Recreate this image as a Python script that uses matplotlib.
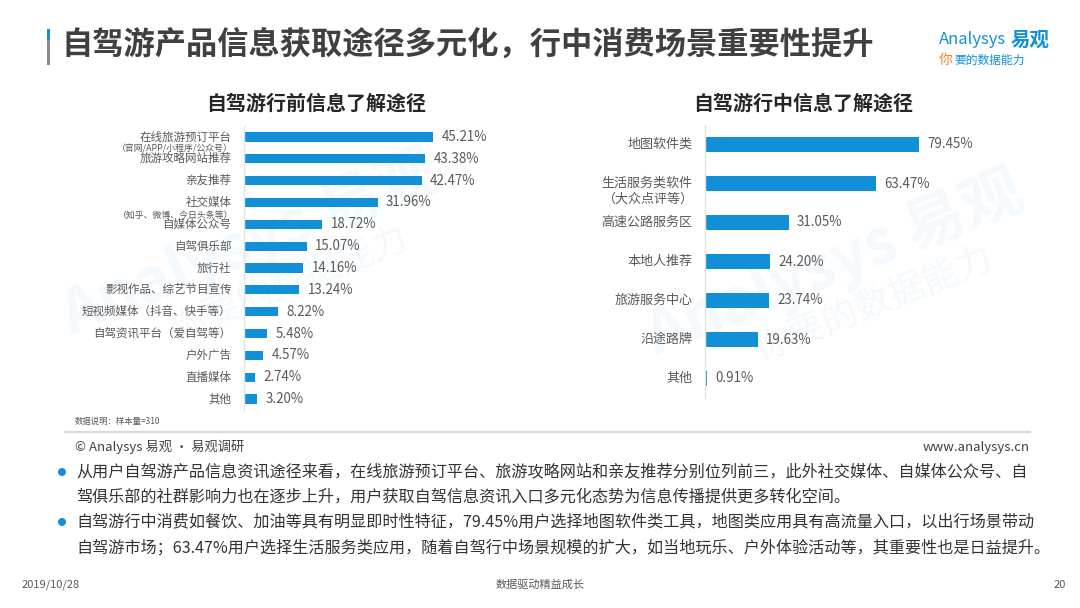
import matplotlib
matplotlib.use("Agg")
import matplotlib.pyplot as plt
from matplotlib.patches import Ellipse, Rectangle

plt.rcParams["font.family"] = ["Noto Sans CJK SC", "DejaVu Sans"]

W, H = 1080, 608

# ---- data ----
pre_labels = ["在线旅游预订平台", "旅游攻略网站推荐", "亲友推荐", "社交媒体", "自媒体公众号",
              "自驾俱乐部", "旅行社", "影视作品、综艺节目宣传", "短视频媒体（抖音、快手等）",
              "自驾资讯平台（爱自驾等）", "户外广告", "直播媒体", "其他"]
pre_sublabels = {0: "（官网/APP/小程序/公众号）", 3: "（知乎、微博、今日头条等）"}
pre_values = [45.21, 43.38, 42.47, 31.96, 18.72, 15.07, 14.16, 13.24, 8.22, 5.48, 4.57, 2.74, 3.20]

mid_labels = ["地图软件类", "生活服务类软件", "高速公路服务区", "本地人推荐", "旅游服务中心", "沿途路牌", "其他"]
mid_sublabels = {1: "（大众点评等）"}
mid_values = [79.45, 63.47, 31.05, 24.20, 23.74, 19.63, 0.91]

title = "自驾游产品信息获取途径多元化，行中消费场景重要性提升"
pre_title = "自驾游行前信息了解途径"
mid_title = "自驾游行中信息了解途径"
note = "数据说明：样本量=310"
bullets = [
    ["从用户自驾游产品信息资讯途径来看，在线旅游预订平台、旅游攻略网站和亲友推荐分别位列前三，此外社交媒体、自媒体公众号、自",
     "驾俱乐部的社群影响力也在逐步上升，用户获取自驾信息资讯入口多元化态势为信息传播提供更多转化空间。"],
    ["自驾游行中消费如餐饮、加油等具有明显即时性特征，79.45%用户选择地图软件类工具，地图类应用具有高流量入口，以出行场景带动",
     "自驾游市场；63.47%用户选择生活服务类应用，随着自驾行中场景规模的扩大，如当地玩乐、户外体验活动等，其重要性也是日益提升。"],
]

BLUE = "#1190d8"
DARK = "#404040"
GRAY = "#595959"


def px(x):
    return x / W


def py(y):
    return 1 - y / H


fig = plt.figure(figsize=(W / 100, H / 100), dpi=100)
fig.patch.set_facecolor("white")


def bar_panel(left, right, top, bottom, xmax, labels, sublabels, values, bar_h,
              label_size, sub_size, sub_dy, value_size):
    ax = fig.add_axes([px(left), py(bottom), px(right) - px(left), py(top) - py(bottom)])
    n = len(values)
    ax.barh(range(n), values, height=bar_h, color=BLUE, zorder=2)
    ax.set_xlim(0, xmax)
    ax.set_ylim(n - 0.5, -0.5)
    for s in ["top", "right", "bottom"]:
        ax.spines[s].set_visible(False)
    ax.spines["left"].set_color("#e3e3e3")
    ax.spines["left"].set_linewidth(1.0)
    ax.set_xticks([])
    ax.set_yticks([])
    ax.patch.set_alpha(0)
    for i, (lab, v) in enumerate(zip(labels, values)):
        ax.annotate(f"{v:.2f}%", (v, i), xytext=(6, 0), textcoords="offset points",
                    va="center", ha="left", fontsize=value_size, color=GRAY)
        ax.annotate(lab, (0, i), xytext=(-9, 0), textcoords="offset points",
                    va="center", ha="right", fontsize=label_size, color=GRAY)
        if i in sublabels:
            ax.annotate(sublabels[i], (0, i), xytext=(-8, -sub_dy), textcoords="offset points",
                        va="center", ha="right", fontsize=sub_size, color=GRAY)
    return ax


# faint watermarks, kept underneath the chart axes
for cx, cy in [(250, 245), (835, 265)]:
    fig.text(px(cx), py(cy), "Analysys 易观", fontsize=44, fontweight="bold", color="#e4f1fa",
             alpha=0.4, rotation=22, ha="center", va="center", zorder=-1)
    fig.text(px(cx + 40), py(cy + 40), "你要的数据能力", fontsize=26, color="#e4f1fa",
             alpha=0.4, rotation=22, ha="center", va="center", zorder=-1)

bar_panel(244, 520, 126, 410, 66, pre_labels, pre_sublabels, pre_values, 0.42,
          8.3, 6.4, 9, 9.6)
bar_panel(705, 1010, 125, 398, 113, mid_labels, mid_sublabels, mid_values, 0.36,
          9.4, 9.4, 11.5, 9.6)

# header
fig.add_artist(Rectangle((px(47), py(40)), px(3), py(29) - py(40), transform=fig.transFigure,
                         color=BLUE, lw=0))
fig.add_artist(Rectangle((px(47), py(65)), px(3), py(40) - py(65), transform=fig.transFigure,
                         color="#8c8c8c", lw=0))
fig.text(px(61), py(46), title, fontsize=22.5, fontweight="bold", color=DARK, va="center", ha="left")

fig.text(px(1050), py(40), "易观", fontsize=14, fontweight="bold", color=BLUE, ha="right", va="center")
fig.text(px(1006), py(40), "Analysys", fontsize=12, color=BLUE, ha="right", va="center", style="italic")
fig.text(px(946), py(60), "你", fontsize=10, color="#f08a24", ha="center", va="center", style="italic")
fig.text(px(954), py(60), "要的数据能力", fontsize=8.5, color=BLUE, ha="left", va="center", style="italic")

fig.text(px(316), py(103), pre_title, fontsize=14.4, fontweight="bold", color="#262626",
         ha="center", va="center")
fig.text(px(803), py(103), mid_title, fontsize=14.4, fontweight="bold", color="#262626",
         ha="center", va="center")

fig.text(px(75), py(421), note, fontsize=6, color=GRAY, ha="left", va="center")

# separator and source line
fig.add_artist(plt.Line2D([px(65), px(1030)], [py(432), py(432)], transform=fig.transFigure,
                          color="#d9d9d9", lw=1.6))
fig.text(px(75), py(447), "© Analysys 易观 · 易观调研", fontsize=9.5, color=DARK, ha="left", va="center")
fig.text(px(1030), py(447), "www.analysys.cn", fontsize=9.5, color=DARK, ha="right", va="center")

# bullet text
line_y = [[472, 497], [522, 548]]
for lines, ys in zip(bullets, line_y):
    fig.add_artist(Ellipse((px(62), py(ys[0])), 8 / W, 8 / H, transform=fig.transFigure,
                           color=BLUE, lw=0))
    for txt, y in zip(lines, ys):
        fig.text(px(76), py(y), txt, fontsize=11.6, color="#333333", ha="left", va="center")

# footer
fig.text(px(22), py(585), "2019/10/28", fontsize=8, color=GRAY, ha="left", va="center")
fig.text(px(540), py(585), "数据驱动精益成长", fontsize=8, color=GRAY, ha="center", va="center")
fig.text(px(1066), py(585), "20", fontsize=8, color=GRAY, ha="right", va="center")

fig.savefig("out.png", dpi=100)
